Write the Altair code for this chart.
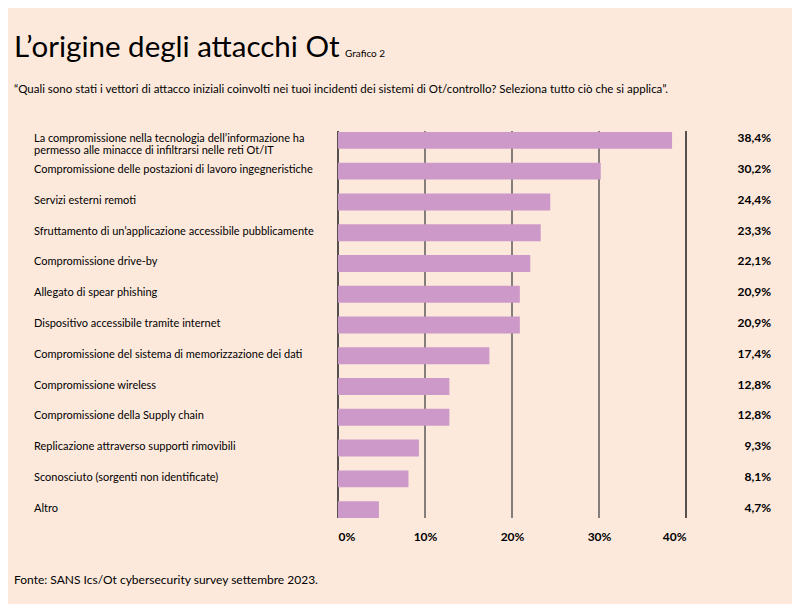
import altair as alt
import pandas as pd

categories = [
    "La compromissione nella tecnologia dell\u2019informazione ha\npermesso alle minacce di infiltrarsi nelle reti Ot/IT",
    "Compromissione delle postazioni di lavoro ingegneristiche",
    "Servizi esterni remoti",
    "Sfruttamento di un\u2019applicazione accessibile pubblicamente",
    "Compromissione drive-by",
    "Allegato di spear phishing",
    " Dispositivo accessibile tramite internet",
    "Compromissione del sistema di memorizzazione dei dati",
    "Compromissione wireless",
    "Compromissione della Supply chain",
    "Replicazione attraverso supporti rimovibili",
    "Sconosciuto (sorgenti non identificate)",
    "Altro",
]
values = [38.4, 30.2, 24.4, 23.3, 22.1, 20.9, 20.9, 17.4, 12.8, 12.8, 9.3, 8.1, 4.7]
tick_values = [0, 10, 20, 30, 40]

title_text = "L\u2019origine degli attacchi Ot"
title_small = "Grafico 2"
subtitle_text = "\u201cQuali sono stati i vettori di attacco iniziali coinvolti nei tuoi incidenti dei sistemi di Ot/controllo? Seleziona tutto ci\u00f2 che si applica\u201d."
source_text = "Fonte: SANS Ics/Ot cybersecurity survey settembre 2023."

FONT = "Lato"
BG = "#FDE9DC"
BAR = "#CC99C8"
TXT = "#000000"

df = pd.DataFrame({
    "cat": categories,
    "val": values,
    "lab": [f"{v:.1f}".replace(".", ",") + "%" for v in values],
})
grid_df = pd.DataFrame({"v": tick_values})

xscale = alt.Scale(domain=[0, 40], nice=False)
yenc = alt.Y("cat:N", sort=categories, axis=None,
             scale=alt.Scale(paddingInner=0.45, paddingOuter=0.225))

grid = alt.Chart(grid_df).mark_rule(strokeWidth=1.5).encode(
    x=alt.X("v:Q", scale=xscale,
            axis=alt.Axis(values=tick_values, labelExpr="datum.value + '%'",
                          domain=False, ticks=False, grid=False, title=None,
                          labelPadding=6, labelFontSize=12, labelFont=FONT,
                          labelColor=TXT, labelFontWeight="bold")),
    y=alt.value(6),
    y2=alt.value(393),
    color=alt.condition("datum.v == 0 || datum.v == 40", alt.value("#1e1e1e"), alt.value("#5a5a5a")),
)

base = alt.Chart(df)

bars = base.mark_bar(color=BAR).encode(
    x=alt.X("val:Q", scale=xscale),
    y=yenc,
)

ylabels = base.mark_text(align="left", baseline="middle", font=FONT, fontSize=11,
                         color=TXT, lineBreak="\n", lineHeight=12, dy=-1).encode(
    x=alt.value(-304),
    y=yenc,
    text="cat:N",
)

vlabels = base.mark_text(align="right", baseline="middle", font=FONT, fontSize=12,
                         fontWeight="bold", color=TXT, dy=-2).encode(
    x=alt.value(433),
    y=yenc,
    text="lab:N",
)

def txt(s, x, y, size, weight="normal", baseline="alphabetic"):
    return alt.Chart(pd.DataFrame({"t": [s]})).mark_text(
        align="left", baseline=baseline, font=FONT, fontSize=size,
        fontWeight=weight, color=TXT).encode(
        x=alt.value(x), y=alt.value(y), text="t:N")

title = txt(title_text, -324, -68, 29.5)
small = txt(title_small, 7, -68, 10)
subtitle = txt(subtitle_text, -324, -35, 11.5, baseline="middle")
source = txt(source_text, -324, 455, 12, baseline="middle")

chart = alt.layer(grid, bars, ylabels, vlabels, title, small, subtitle, source).properties(
    width=348,
    height=400,
    background=BG,
    padding={"left": 330, "top": 117, "right": 106, "bottom": 79},
    autosize=alt.AutoSizeParams(type="none"),
).configure_view(stroke=None)

chart.save("out.html", embed_options={"renderer": "svg", "actions": False})
